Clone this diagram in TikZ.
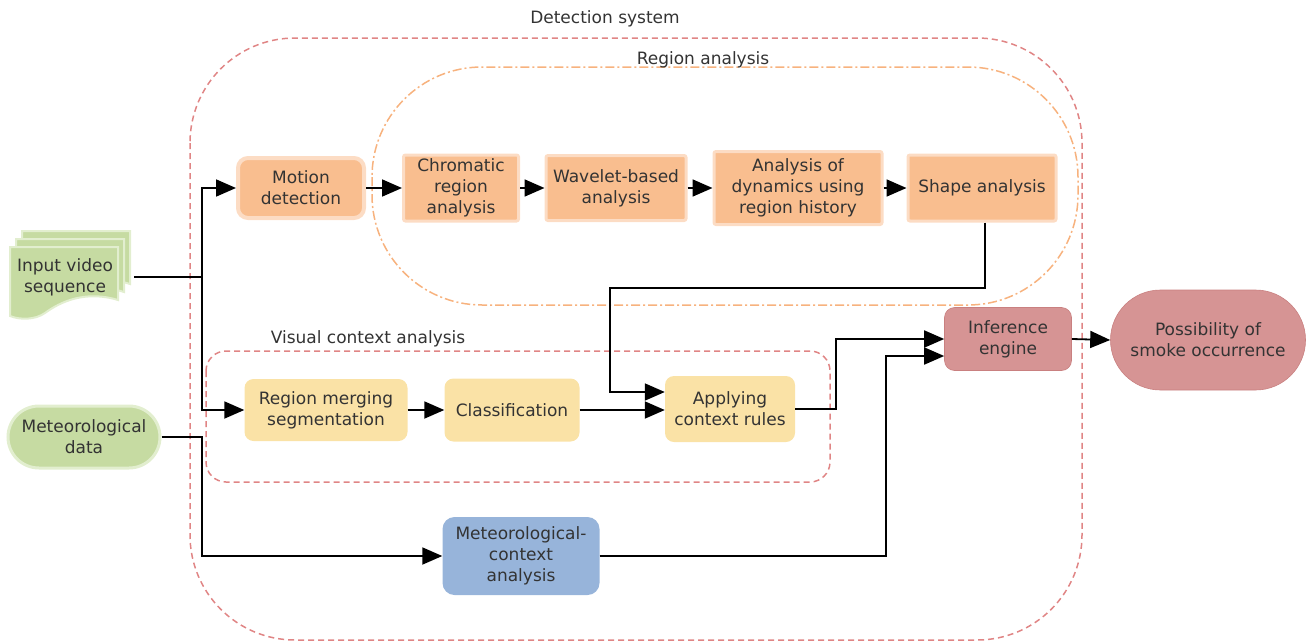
\documentclass[tikz,border=0pt]{standalone}
\usepackage{fontspec}
\setmainfont{DejaVu Sans}
\usetikzlibrary{arrows.meta,calc,shapes.misc}
\definecolor{txt}{HTML}{333333}
\definecolor{orfill}{HTML}{F9BE8F}
\definecolor{orbord}{HTML}{FCDCC4}
\definecolor{yefill}{HTML}{FAE2A6}
\definecolor{grfill}{HTML}{C6DBA2}
\definecolor{grbord}{HTML}{E2EECF}
\definecolor{blfill}{HTML}{97B4DA}
\definecolor{rdfill}{HTML}{D69494}
\definecolor{rdbord}{HTML}{C98080}
\definecolor{dashred}{HTML}{E08585}
\definecolor{dashor}{HTML}{F7B27E}
\begin{document}
\begin{tikzpicture}[x=1pt,y=-1pt,
  every node/.style={font=\fontsize{17}{21}\selectfont, text=txt, align=center},
  orbox/.style={fill=orfill, draw=orbord, line width=3pt, rounded corners=2pt, inner sep=0pt},
  yebox/.style={fill=yefill, draw=none, rounded corners=9pt, inner sep=0pt},
  conn/.style={line width=1.8pt, black},
  arr/.style={conn, -{Triangle[length=20pt,width=17pt]}},
  lbl/.style={font=\fontsize{17}{21}\selectfont, text=txt}
]
\useasboundingbox (0,0) rectangle (1306,643);
% containers
\draw[dashred, line width=1.5pt, dash pattern=on 6pt off 4pt, rounded corners=105pt] (190,38) rectangle (1082,640);
\node[lbl] (detlbl) at (605,19) {Detection system};
\draw[dashor, line width=1.5pt, dash pattern=on 9pt off 3pt on 2pt off 3pt, rounded corners=110pt] (372,67) rectangle (1078,305);
\node[lbl] (reglbl) at (703,60) {Region analysis};
\draw[dashred, line width=1.5pt, dash pattern=on 6pt off 4pt, rounded corners=20pt] (206,351) rectangle (830,482);
\node[lbl] (vislbl) at (368,339) {Visual context analysis};
% input document stack
\foreach \dx/\dy in {12/-16, 6/-8} {
  \path[fill=grfill, draw=grbord, line width=2pt] ($(10,247)+(\dx,\dy)$) -- ($(118,247)+(\dx,\dy)$) -- ($(118,300)+(\dx,\dy)$) .. controls ($(95,292)+(\dx,\dy)$) and ($(60,300)+(\dx,\dy)$) .. ($(10,306)+(\dx,\dy)$) -- cycle;
}
\path[fill=grfill, draw=grbord, line width=2pt] (10,247) -- (118,247) -- (118,300) .. controls (85,290) and (60,302) .. (45,313) .. controls (35,320) and (20,320) .. (10,316) -- cycle;
\node (input) at (65,277) {Input video\\sequence};
\coordinate (inputout) at (134,277);
% meteorological data
\node[rounded rectangle, fill=grfill, draw=grbord, line width=3pt, minimum width=152pt, minimum height=62pt, inner sep=0pt] (meteo) at (84,437) {Meteorological\\data};
% region analysis chain
\node[orbox, rounded corners=10pt, line width=4pt, minimum width=126pt, minimum height=60pt] (motion) at (301,188) {Motion\\detection};
\node[orbox, minimum width=115pt, minimum height=66pt] (chrom) at (461,188) {Chromatic\\region\\analysis};
\node[orbox, minimum width=140pt, minimum height=65pt] (wave) at (616,188) {Wavelet-based\\analysis};
\node[orbox, minimum width=168pt, minimum height=73pt] (dyn) at (798,188) {Analysis of\\dynamics using\\region history};
\node[orbox, minimum width=148pt, minimum height=66pt] (shape) at (982,188) {Shape analysis};
% visual context
\node[yebox, minimum width=163pt, minimum height=62pt] (merge) at (326,410) {Region merging\\segmentation};
\node[yebox, minimum width=135pt, minimum height=63pt] (class) at (512,410) {Classification};
\node[yebox, minimum width=130pt, minimum height=66pt] (apply) at (730,409) {Applying\\context rules};
% meteorological context
\node[fill=blfill, rounded corners=12pt, minimum width=157pt, minimum height=78pt, inner sep=0pt] (metctx) at (521,556) {Meteorological-\\context\\analysis};
% inference
\node[fill=rdfill, draw=rdbord, line width=0.6pt, rounded corners=10pt, minimum width=127pt, minimum height=63pt, inner sep=0pt] (inf) at (1008,339) {Inference\\engine};
\node[rounded rectangle, fill=rdfill, draw=rdbord, line width=0.6pt, minimum width=195pt, minimum height=100pt, inner sep=0pt] (poss) at (1208,340) {Possibility of\\smoke occurrence};
% connectors
\coordinate (j1) at (202,277);
\coordinate (j2) at (202,437);
\coordinate (c1) at (985,288);
\coordinate (c2) at (610,288);
\coordinate (c3) at (836,409);
\coordinate (c4) at (886,556);
\draw[conn] (inputout) -- (j1);
\draw[arr] (j1) |- (motion);
\draw[arr] (j1) |- (merge);
\draw[arr] (meteo.east) -- (j2) |- (metctx);
\draw[arr] (motion) -- (chrom);
\draw[arr] (chrom) -- (wave);
\draw[arr] (wave) -- (dyn);
\draw[arr] (dyn) -- (shape);
\draw[arr] (shape.south -| c1) -- (c1) -- (c2) |- ([yshift=17pt]apply.west);
\draw[arr] (merge) -- (class);
\draw[arr] (class.east) -- (class.east -| apply.west);
\draw[arr] (apply.east) -- (c3) |- (inf.west);
\draw[arr] (metctx.east) -- (c4) |- ([yshift=-17pt]inf.west);
\draw[arr] (inf.east) -- (poss.west);
\end{tikzpicture}
\end{document}
